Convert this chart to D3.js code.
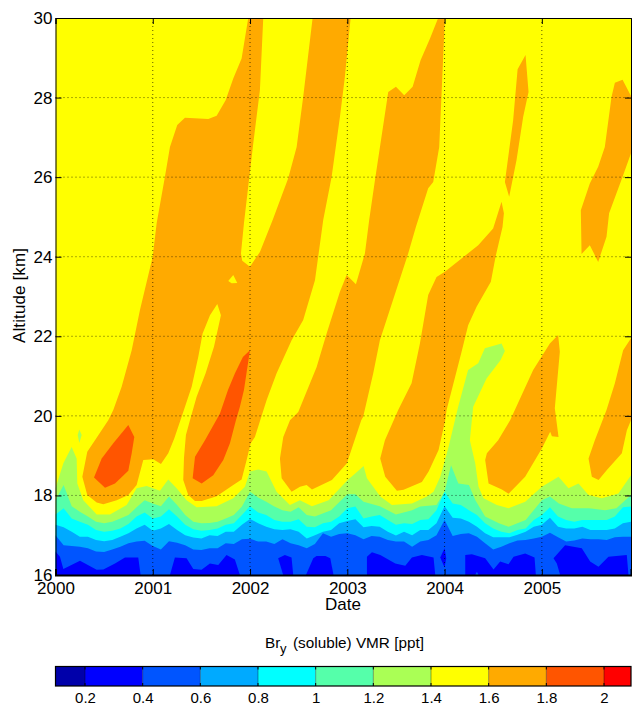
<!DOCTYPE html>
<meta charset="utf-8">
<head>
<script src="https://d3js.org/d3.v7.min.js"></script>
<style>
body { margin: 0; background: #fff; }
text { font-family: "Liberation Sans", Arial, sans-serif; fill: #000; }
</style>
</head>
<body>
<svg id="chart" width="632" height="703"></svg>
<script>
// x values are months since Jan 2000, y values are km
var years = [2000, 2001, 2002, 2003, 2004, 2005];
var altTicks = [16, 18, 20, 22, 24, 26, 28, 30];
var barLevels = [0.1, 0.2, 0.4, 0.6, 0.8, 1, 1.2, 1.4, 1.6, 1.8, 2, 2.095];
var barTicks = [0.2, 0.4, 0.6, 0.8, 1, 1.2, 1.4, 1.6, 1.8, 2];
var barColors = ["#0000aa", "#0000ff", "#0055ff", "#00aaff", "#00ffff", "#55ffaa", "#aaff55", "#ffff00", "#ffaa00", "#ff5500", "#ff0000"];

// contour altitude per month
var level06 = [17.00,16.75,16.73,16.71,16.67,16.59,16.58,16.64,16.71,16.80,16.84,16.86,16.73,16.64,16.85,16.81,16.75,16.64,16.63,16.67,16.67,16.80,16.78,16.90,16.91,16.84,16.84,16.78,16.90,16.80,16.75,16.67,
  16.78,17.05,16.96,17.03,17.05,17.00,16.90,16.98,16.96,16.88,16.84,16.84,16.71,16.84,16.88,17.00,17.38,16.98,17.03,17.05,16.96,16.80,16.64,16.71,16.80,16.87,16.88,16.92,16.96,17.06,16.95,16.84,16.87,16.92,16.90,16.90,16.88,16.95,16.96,16.96];
var level08 = [17.26,17.20,17.09,16.96,16.96,16.88,16.85,16.88,16.96,17.05,17.17,17.26,17.11,17.17,17.28,17.13,17.00,16.94,16.92,17.00,16.98,17.09,17.09,17.26,17.41,17.30,17.21,17.15,17.13,17.15,17.09,16.92,
  17.00,17.09,17.13,17.30,17.36,17.40,17.20,17.23,17.21,17.09,16.99,17.09,17.00,17.13,17.13,17.30,17.73,17.44,17.42,17.34,17.21,17.05,16.95,16.95,16.95,17.01,17.09,17.21,17.26,17.44,17.21,17.17,17.17,17.21,17.13,17.13,17.13,17.17,17.30,17.34];
var level10 = [17.52,17.68,17.42,17.34,17.26,17.13,17.09,17.11,17.17,17.28,17.47,17.57,17.42,17.47,17.65,17.47,17.26,17.15,17.11,17.13,17.17,17.26,17.30,17.51,17.73,17.57,17.51,17.38,17.34,17.34,17.40,17.21,
  17.20,17.30,17.34,17.47,17.68,17.72,17.42,17.47,17.51,17.38,17.26,17.30,17.28,17.38,17.40,17.63,18.09,17.80,17.76,17.63,17.51,17.30,17.17,17.09,17.05,17.13,17.17,17.38,17.51,17.70,17.47,17.38,17.34,17.38,17.38,17.38,17.38,17.47,17.70,17.72];

// contour outlines as [month, km]
var level12 = [[0,17.88],[1,18.26],[2,17.73],[3,17.59],[4,17.47],[5,17.34],[6,17.30],[7,17.34],[8,17.42],[9,17.51],[10,17.70],[11,17.88],[12,17.80],[13,17.73],[14,17.97],[15,17.76],[16,17.51],[17,17.34],[18,17.30],[19,17.31],[20,17.34],[21,17.42],[22,17.51],[23,17.72],[24,18.09],[25,17.95],[26,17.84],[27,17.72],[28,17.63],[29,17.59],[30,17.70],[31,17.51],[32,17.47],[34,17.63],[36,18.03],[37,18.03],[38,17.84],[40,17.73],[42,17.52],[44,17.63],[45,17.72],[47,17.76],[48,18.09],[48.8,18.76],[49.7,18.30],[51,18.26],[51.8,17.88],[53,17.47],[54.7,17.30],[55.9,17.21],[58,17.38],[60,17.88],[61,17.97],[62.1,17.80],[63.7,17.68],[65.8,17.68],[67.8,17.63],[69.2,17.68],[71,18.01]];
var level14 = [[0,18.18],[0.97,18.81],[1.99,19.22],[2.61,18.93],[2.69,18.30],[3.43,17.88],[5.08,17.52],[6.72,17.52],[8.78,17.76],[10.01,18.18],[11.24,18.24],[12.89,18.12],[13.91,18.40],[14.94,18.18],[16.17,17.88],[17.41,17.70],[19.87,17.73],[21.93,17.93],[23.37,18.22],[23.98,18.60],[25.01,18.65],[26.04,18.60],[27.27,18.09],[28.92,17.76],[30.15,17.88],[31.64,17.73],[33.7,17.88],[36.04,18.39],[36.98,18.55],[38.01,18.74],[38.42,18.43],[40.07,17.97],[41.51,17.76],[43.97,17.80],[45.82,17.97],[46.64,18.09],[47.47,18.47],[48,18.85],[48.49,19.22],[49.68,20.23],[50.9,21.15],[52.15,21.32],[52.97,21.7],[55.03,21.82],[55.44,21.63],[54.9,21.4],[53.18,20.94],[51.53,20.23],[51.12,19.39],[51.78,18.81],[52.19,18.22],[52.81,17.93],[54.45,17.76],[55.89,17.68],[57.95,17.84],[60,18.22],[62.06,18.47],[63.29,18.18],[64.52,18.30],[65.76,18.01],[67.4,17.93],[69.45,18.05],[71,18.51]];
var green14Spot = [[2.94,19.66],[3.23,19.52],[2.94,19.32],[2.74,19.52]];

var blue04 = [
  [[0,16],[0,16.59],[0.55,16.46],[0.97,16.15],[3.02,16.36],[5.08,16.13],[5.9,16.14],[7.34,16.29],[8.57,16.44],[10.21,16.44],[10.5,16]],
  [[14.12,16],[14.73,16.44],[16.17,16.42],[17,16.15],[18.02,16.13],[19.05,16.29],[20.08,16.25],[21.1,16.5],[22.13,16.39],[22.75,16]],
  [[27.47,16.42],[28.3,16.5],[29.12,16.44],[29.33,16],[28.09,16]],
  [[30.9,16],[31.8,16.42],[32.2,16.48],[33.3,16.48],[33.9,16.42],[34.3,16]],
  [[38.42,16],[38.42,16.46],[39.04,16.57],[40.07,16.5],[41.92,16.29],[43.15,16.23],[43.97,16.44],[45.2,16.5],[46.64,16.44],[46.85,16]],
  [[47.47,16.44],[48,16.67],[48.2,16.42],[48,16.19]],
  [[50.55,16],[50.55,16.5],[51.37,16.52],[53.01,16.42],[54.04,16.14],[54.86,16.34],[55.89,16.27],[56.51,16.46],[57.95,16.54],[59.1,16.44],[59.26,16],[52.19,16],[51.99,16.08],[51.78,16]],
  [[61.44,16.42],[62.87,16.75],[64.93,16.67],[65.96,16.34],[66.99,16.21],[68.22,16.46],[70.48,16.5],[70.69,16],[62.26,16],[61.85,16.29]]
];

var orange16 = [
  [[3.31,18.47],[3.92,19.10],[4.87,19.39],[6.51,19.89],[7.13,20.15],[8.16,20.73],[9.40,21.65],[10.42,22.66],[11.99,24.00],[12.48,24.84],[13.50,26.01],[14.12,26.76],[15.02,27.31],[15.97,27.49],[18.85,27.46],[19.88,27.54],[20.99,27.93],[21.93,28.48],[22.96,28.98],[23.78,30],[25.63,30],[25.22,28.19],[24.40,26.85],[23.25,24.84],[22.88,24.08],[23.04,23.90],[23.99,23.75],[25.22,24.12],[26.79,24.92],[28.71,25.97],[29.75,26.76],[30.56,28.02],[31.72,30],[36.41,30],[35.70,28.52],[35.09,27.51],[34.07,26.01],[33.03,24.92],[32.01,23.41],[30.56,22.41],[29.13,21.90],[27.28,21.07],[26.05,20.40],[24.60,19.47],[24.08,19.31],[23.58,18.89],[22.96,18.40],[21.93,18.26],[19.88,17.98],[18.03,17.86],[17.21,17.86],[16.38,18.01],[15.76,18.39],[15.85,18.94],[16.09,19.52],[16.59,19.89],[17.41,20.48],[18.52,21.07],[19.55,21.74],[20.41,22.53],[19.96,22.81],[19.06,22.53],[18.15,22.07],[17.61,21.48],[16.80,20.73],[15.76,20.10],[14.65,19.43],[13.91,19.06],[13.01,18.79],[12.06,18.91],[10.83,18.89],[10.01,18.26],[8.98,18.01],[7.55,17.88],[5.90,17.78],[5.08,17.82],[3.92,18.01]],
  [[27.69,18.93],[28.10,19.47],[28.93,19.89],[29.95,20.10],[32.22,21.23],[33.45,22.07],[35.09,23.12],[35.92,23.54],[37.06,23.31],[38.17,24.08],[38.70,24.92],[39.41,25.92],[41.05,28.14],[42.00,28.27],[43.02,28.06],[44.06,28.27],[45.04,28.94],[46.19,29.48],[47.21,30],[48.04,30],[47.63,28.10],[47.34,26.76],[46.60,25.88],[45.98,25.72],[44.46,24.75],[43.51,24.08],[40.02,21.90],[39.20,21.07],[37.96,19.98],[37.72,19.89],[35.95,18.81],[34.10,18.39],[31.64,18.15],[30.98,18.26],[30.16,18.22],[29.13,18.09],[27.90,18.43]],
  [[40.06,18.93],[40.64,19.39],[42.28,20.15],[43.93,20.82],[44.96,21.82],[45.98,23.04],[47.01,23.49],[48.04,23.62],[52.15,24.29],[53.99,24.71],[55.03,25.38],[55.32,25.09],[55.15,24.75],[54.29,24.00],[53.71,23.37],[51.95,22.74],[50.91,22.28],[50.10,21.61],[48.25,20.15],[48.08,19.89],[47.26,19.14],[46.03,18.60],[45.20,18.34],[42.95,18.14],[42.12,18.12],[40.68,18.47]],
  [[53.01,18.89],[53.22,19.06],[54.61,19.39],[56.09,19.89],[58.93,21.15],[60.99,21.82],[62.01,22.03],[62.22,21.61],[61.60,20.19],[62.06,19.47],[61.24,19.49],[61.03,19.60],[60.00,19.18],[57.94,18.47],[55.90,18.04],[55.07,18.15],[53.43,18.30]],
  [[65.76,18.93],[66.54,19.39],[67.98,20.15],[69.01,20.82],[70.03,21.65],[71,21.95],[71,19.89],[70.49,19.64],[69.87,19.06],[68.02,18.64],[67.00,18.39],[66.17,18.47]],
  [[57.99,29.07],[57.01,28.71],[56.46,27.43],[55.44,25.88],[55.97,25.51],[56.88,26.43],[57.70,27.52],[58.36,28.14]],
  [[64.90,24.07],[65.92,24.29],[66.95,23.87],[67.98,24.50],[68.30,25.09],[70.03,26.05],[71,26.60],[71,28.04],[69.96,28.45],[69.01,28.37],[68.60,28.02],[67.77,26.76],[66.95,26.26],[65.92,25.84],[64.81,25.17]]
];
var yellowHole = [[21.31,23.39],[21.93,23.54],[22.42,23.34],[21.73,23.33]];
var red18 = [
  [[4.75,18.45],[5.70,18.93],[7.13,19.31],[8.98,19.77],[9.72,19.47],[9.40,19.06],[8.98,18.62],[7.34,18.30],[6.11,18.19]],
  [[16.92,18.43],[17.21,18.97],[18.44,19.39],[20.29,20.06],[21.28,20.65],[22.14,21.07],[23.12,21.48],[23.99,21.65],[23.25,20.65],[22.75,20.23],[22.26,19.89],[21.52,19.31],[20.70,18.89],[19.46,18.51],[18.03,18.30]]
];

var margin = {left: 55.5, right: 631, top: 18, bottom: 575};
var barTop = 666.5, barBottom = 686;

var svg = d3.select("#chart");
var x = d3.scaleLinear().domain([0, 71]).range([margin.left, margin.right]);
var y = d3.scaleLinear().domain([16, 30]).range([margin.bottom, margin.top]);
// the bar is evenly spaced per 0.2, with a half step at the low end
var xBarStep = d3.scaleLinear().domain([0.2, 2]).range([85, 604]);

var line = d3.line().x(d => x(d[0])).y(d => y(d[1]));
var w = margin.right - margin.left, h = margin.bottom - margin.top;

function color(v) { return barColors[barLevels.indexOf(v)]; }
function monthly(a) { return a.map((v, i) => [i, v]); }
function upTo16(a) { return [[0, 16]].concat(a, [[71, 16]]); }

svg.append("defs").append("clipPath").attr("id", "plot")
  .append("rect").attr("x", margin.left).attr("y", margin.top).attr("width", w).attr("height", h);

var g = svg.append("g").attr("clip-path", "url(#plot)");
g.append("rect").attr("x", margin.left).attr("y", margin.top).attr("width", w).attr("height", h).attr("fill", color(1.4));

function fill(poly, c) { g.append("path").attr("d", line(poly) + "Z").attr("fill", c); }

orange16.forEach(p => fill(p, color(1.6)));
fill(yellowHole, color(1.4));
red18.forEach(p => fill(p, color(1.8)));
fill(upTo16(level14), color(1.2));
fill(green14Spot, color(1.2));
fill(upTo16(level12), color(1));
fill(upTo16(monthly(level10)), color(0.8));
fill(upTo16(monthly(level08)), color(0.6));
fill(upTo16(monthly(level06)), color(0.4));
blue04.forEach(p => fill(p, color(0.2)));

// dotted grid
var monthTicks = years.map(d => (d - 2000) * 12);
var grid = svg.append("g").attr("fill", "none").attr("stroke", "#000").attr("stroke-width", 1).attr("stroke-dasharray", "1,3").attr("opacity", 0.65);
monthTicks.slice(1).forEach(m => grid.append("line").attr("x1", x(m)).attr("x2", x(m)).attr("y1", margin.top).attr("y2", margin.bottom));
altTicks.slice(1, -1).forEach(a => grid.append("line").attr("x1", margin.left).attr("x2", margin.right).attr("y1", y(a)).attr("y2", y(a)));

// axes
var fmtYear = m => 2000 + m / 12;
var xAxis = d3.axisBottom(x).tickValues(monthTicks).tickFormat(fmtYear).tickSize(-6).tickPadding(7);
var xAxisTop = d3.axisTop(x).tickValues(monthTicks).tickFormat("").tickSize(-6);
var yAxis = d3.axisLeft(y).tickValues(altTicks).tickSize(-6).tickPadding(3);
var yAxisRight = d3.axisRight(y).tickValues(altTicks).tickFormat("").tickSize(-6);

function styleAxis(a, size) {
  a.selectAll("text").style("font-size", size + "px");
  a.selectAll("line").attr("stroke", "#000");
  a.selectAll(".domain").attr("stroke", "#000");
}
var ax = svg.append("g").attr("transform", "translate(0," + margin.bottom + ")").call(xAxis);
styleAxis(ax, 17);
ax.select(".domain").attr("stroke-width", 2);
styleAxis(svg.append("g").attr("transform", "translate(0," + margin.top + ")").call(xAxisTop));
styleAxis(svg.append("g").attr("transform", "translate(" + margin.left + ",0)").call(yAxis), 17);
styleAxis(svg.append("g").attr("transform", "translate(" + margin.right + ",0)").call(yAxisRight));

svg.append("text").attr("x", 343).attr("y", 610).attr("text-anchor", "middle").style("font-size", "17px").text("Date");
svg.append("text").attr("transform", "translate(25,295.5) rotate(-90)").attr("text-anchor", "middle")
  .attr("textLength", 95).style("font-size", "17px").text("Altitude [km]");

// colour bar
function barX(v) { return v <= 0.1 ? margin.left : v > 2 ? margin.right : xBarStep(v); }
svg.append("g").selectAll("rect").data(barColors).join("rect")
  .attr("x", (d, i) => barX(barLevels[i]))
  .attr("y", barTop)
  .attr("width", (d, i) => barX(barLevels[i + 1]) - barX(barLevels[i]))
  .attr("height", barBottom - barTop)
  .attr("fill", d => d);
barTicks.forEach(v => {
  svg.append("line").attr("x1", xBarStep(v)).attr("x2", xBarStep(v)).attr("y1", barTop).attr("y2", barBottom).attr("stroke", "#000").attr("opacity", 0.35);
  svg.append("line").attr("x1", xBarStep(v)).attr("x2", xBarStep(v)).attr("y1", barTop).attr("y2", barTop + 3).attr("stroke", "#000");
  svg.append("line").attr("x1", xBarStep(v)).attr("x2", xBarStep(v)).attr("y1", barBottom - 3).attr("y2", barBottom).attr("stroke", "#000");
});
svg.append("rect").attr("x", margin.left).attr("y", barTop).attr("width", w).attr("height", barBottom - barTop)
  .attr("fill", "none").attr("stroke", "#000").attr("stroke-width", 1.2);
var barAxis = d3.axisBottom(xBarStep).tickValues(barTicks).tickFormat(d => String(d)).tickSize(0).tickPadding(6);
var bx = svg.append("g").attr("transform", "translate(0," + barBottom + ")").call(barAxis);
styleAxis(bx, 15);
bx.select(".domain").remove();

var title = svg.append("text").attr("y", 648.3).style("font-size", "15.3px");
title.append("tspan").attr("x", 265).text("Br");
title.append("tspan").attr("x", 280).attr("dy", 5).style("font-size", "13px").text("y");
title.append("tspan").attr("x", 293).attr("dy", -5).text("(soluble) VMR [ppt]");
</script>
</body>
</html>
